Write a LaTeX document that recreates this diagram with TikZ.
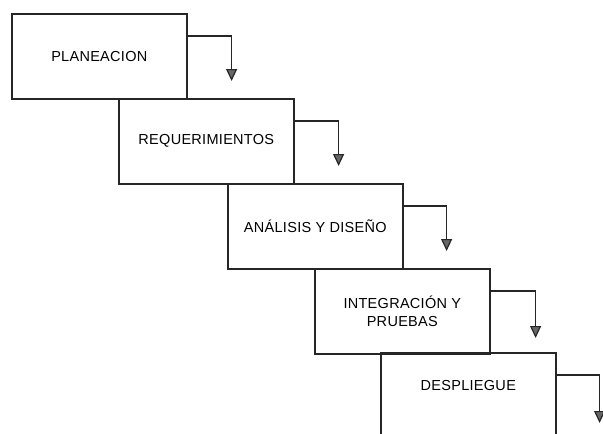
\documentclass[tikz,border=0pt]{standalone}
\usepackage{fontspec}
\setmainfont{Liberation Sans}[LetterSpace=2]
\usetikzlibrary{arrows.meta}

\begin{document}
\begin{tikzpicture}[x=1pt, y=-1pt,
		etapa/.style={draw=black!85, line width=1.6pt, anchor=north west,
			minimum width=175pt, minimum height=85pt, inner sep=0pt,
			align=center, font=\fontsize{14.5}{18}\selectfont},
		flecha/.style={draw=black!85, line width=1.2pt,
			-{Triangle[width=11pt,length=12pt,fill=black!60]}}]
	\useasboundingbox (0,0) rectangle (603,434);
	\clip (0,0) rectangle (603,434);
	% etapas
	\node[etapa] (plan) at (11,13) {PLANEACION};
	\node[etapa] (req) at (118,98) {REQUERIMIENTOS};
	\node[etapa] (dis) at (227,183) {ANÁLISIS Y DISEÑO};
	\node[etapa] (int) at (314,268) {INTEGRACIÓN Y\\PRUEBAS};
	\node[etapa, text depth=20pt] (desp) at (380,352) {DESPLIEGUE};
	% flechas
	\coordinate (f1) at ([xshift=44pt, yshift=-68pt]plan.north east);
	\coordinate (f2) at ([xshift=44pt, yshift=-68pt]req.north east);
	\coordinate (f3) at ([xshift=43pt, yshift=-68pt]dis.north east);
	\coordinate (f4) at ([xshift=45pt, yshift=-70pt]int.north east);
	\coordinate (f5) at ([xshift=43pt, yshift=-71pt]desp.north east);
	\draw[flecha] ([yshift=-23pt]plan.north east) -| (f1);
	\draw[flecha] ([yshift=-23pt]req.north east) -| (f2);
	\draw[flecha] ([yshift=-23pt]dis.north east) -| (f3);
	\draw[flecha] ([yshift=-23pt]int.north east) -| (f4);
	\draw[flecha] ([yshift=-23pt]desp.north east) -| (f5);
\end{tikzpicture}
\end{document}
